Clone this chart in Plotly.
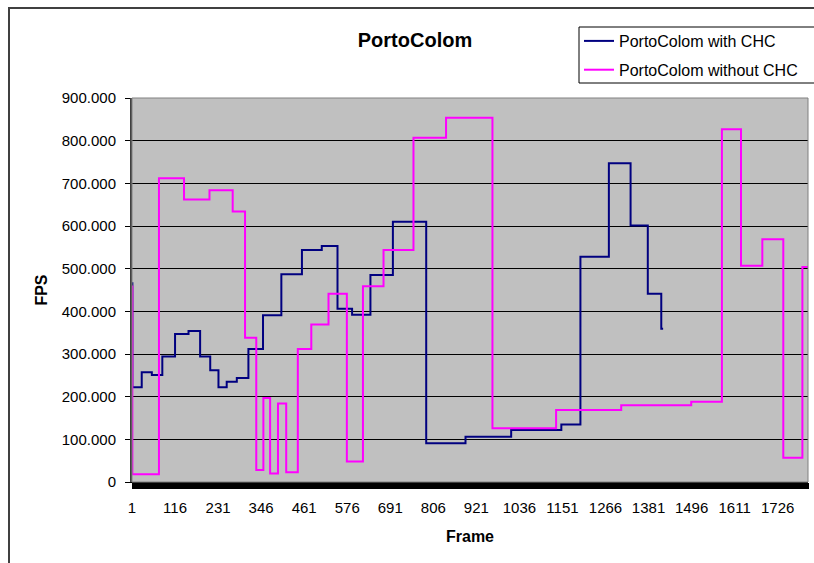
import plotly.graph_objects as go

# ---- data ----
chc_frames = [1, 2, 27, 54, 82, 116, 152, 183, 210, 232, 254, 281, 312, 351, 400,
              455, 508, 550, 589, 638, 698, 787, 892, 1014, 1148, 1199, 1275, 1333,
              1379, 1415, 1420]
chc_fps = [466, 222, 257, 251, 294, 347, 354, 294, 262, 222, 235, 244, 312, 391, 487,
           544, 553, 406, 392, 485, 610, 91, 106, 122, 135, 528, 747, 601,
           441, 359, 359]

nochc_frames = [1, 2, 73, 140, 208, 270, 303, 333, 352, 370, 391, 413, 444, 480, 526,
                575, 618, 673, 753, 840, 964, 1134, 1308, 1495, 1577, 1628, 1685,
                1741, 1792, 1807]
nochc_fps = [458, 18, 712, 662, 684, 634, 338, 28, 197, 20, 184, 23, 312, 369, 441,
             48, 459, 544, 807, 854, 126, 169, 180, 188, 827, 507, 569,
             57, 504, 504]

x_tick_vals = [1, 116, 231, 346, 461, 576, 691, 806, 921, 1036, 1151, 1266, 1381,
               1496, 1611, 1726]
x_tick_text = [str(v) for v in x_tick_vals]
y_tick_vals = [0, 100, 200, 300, 400, 500, 600, 700, 800, 900]
y_tick_text = ["0", "100.000", "200.000", "300.000", "400.000", "500.000",
               "600.000", "700.000", "800.000", "900.000"]

FONT = "Liberation Sans, Arial, sans-serif"

fig = go.Figure()
fig.add_trace(go.Scatter(x=chc_frames, y=chc_fps, mode="lines", line_shape="hv",
                         name="PortoColom with CHC", legendgroup="a",
                         line=dict(color="#000080", width=2)))
fig.add_trace(go.Scatter(x=nochc_frames, y=nochc_fps, mode="lines", line_shape="hv",
                         name="PortoColom without CHC", legendgroup="b",
                         line=dict(color="#FF00FF", width=2)))

L, R, T, B = 132, 6, 98, 81
W, H = 814, 563
pw, ph = W - L - R, H - T - B

def px(x):
    return (x - L) / pw

def py(y):
    return (H - B - y) / ph

fig.update_layout(
    width=W, height=H,
    margin=dict(l=L, r=R, t=T, b=B, autoexpand=False),
    paper_bgcolor="white", plot_bgcolor="#C0C0C0",
    font=dict(family=FONT, size=15, color="black"),
    title=dict(text="<b>PortoColom</b>", x=415 / W, xanchor="center",
               y=1 - 40 / H, yanchor="middle", font=dict(size=20)),
    showlegend=True,
    legend=dict(x=px(579), y=py(24), xanchor="left", yanchor="top",
                borderwidth=0, bgcolor="rgba(0,0,0,0)",
                font=dict(size=16), tracegroupgap=5, traceorder="grouped"),
    xaxis=dict(range=[1, 1807], tickmode="array", tickvals=x_tick_vals,
               ticktext=x_tick_text, ticks="outside", ticklen=6, tickcolor="black",
               showgrid=False, zeroline=False, showline=True, linecolor="black",
               ticklabelstandoff=6,
               minor=dict(tick0=1, dtick=2, ticks="outside", ticklen=6,
                          tickcolor="black", showgrid=False),
               title=dict(text="<b>Frame</b>", standoff=15, font=dict(size=16))),
    yaxis=dict(range=[0, 900], tickmode="array", tickvals=y_tick_vals,
               ticktext=y_tick_text, ticks="outside", ticklen=5, tickcolor="black",
               showgrid=True, gridcolor="black", gridwidth=1, zeroline=False,
               showline=True, linecolor="#404040", linewidth=2,
               ticklabelstandoff=6,
               title=dict(text="<b>FPS</b>", standoff=10, font=dict(size=16))),
    shapes=[
        dict(type="rect", xref="paper", yref="paper", x0=0, x1=1, y0=0, y1=1,
             line=dict(color="#808080", width=1), layer="above"),
        dict(type="rect", xref="paper", yref="paper", x0=px(9), x1=px(840),
             y0=py(8), y1=py(600), line=dict(color="#404040", width=2)),
        dict(type="rect", xref="paper", yref="paper", x0=px(579), x1=px(840),
             y0=py(27), y1=py(83), line=dict(color="black", width=1),
             fillcolor="white", layer="below"),
    ],
)

fig.write_html("out.html", config={"displayModeBar": False},
               post_script="document.body.style.margin='0px';")
